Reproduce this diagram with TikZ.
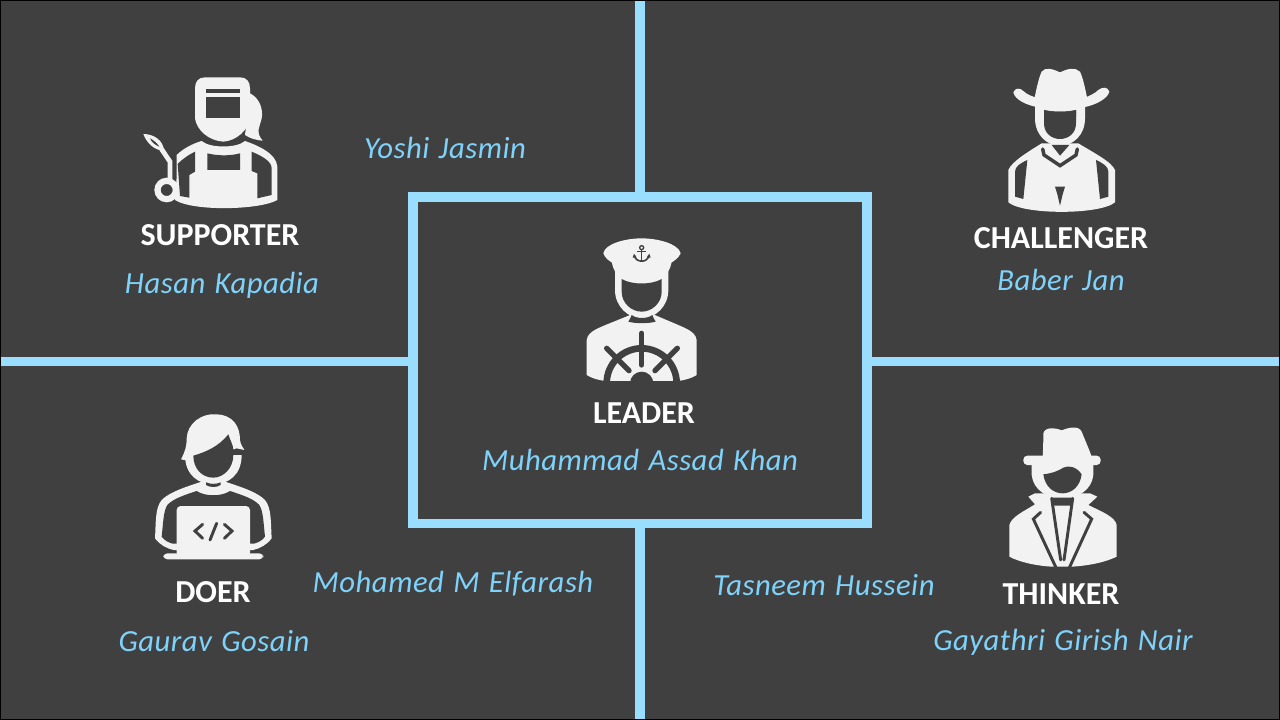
\documentclass[tikz,border=0pt]{standalone}
\usepackage{fontspec}
\setmainfont{Carlito}
\newfontfamily\namefont[LetterSpace=1.7,WordSpace=1.25]{Carlito}
\definecolor{bgc}{HTML}{404040}
\definecolor{linec}{HTML}{99DDFF}
\definecolor{namec}{HTML}{7FD3FA}
\definecolor{iconc}{HTML}{F2F2F2}
\tikzset{
 x=0.75pt,y=-0.75pt,
 role/.style={text=white,font=\fontsize{24}{27}\selectfont\bfseries,inner sep=0pt},
 person/.style={text=namec,font=\namefont\fontsize{23}{26}\selectfont\itshape,inner sep=0pt},
 wh/.style={fill=iconc,draw=none},
 dk/.style={fill=bgc,draw=none},
 dkl/.style={draw=bgc,line cap=round},
 whl/.style={draw=iconc,line cap=round},
}
\begin{document}
\begin{tikzpicture}
\useasboundingbox (0,0) rectangle (1280,720);
\fill[bgc] (0,0) rectangle (1280,720);
\coordinate (edgeT) at (640,0);
\coordinate (edgeB) at (640,720);
\coordinate (edgeL) at (0,361.7);
\coordinate (edgeR) at (1280,361.7);
\node[draw=linec,line width=7pt,fill=none,minimum width=340.5pt,minimum height=245pt,inner sep=0pt] (leaderbox) at (640,360.2) {};
\draw[draw=linec,line width=7.5pt] (leaderbox.north) -- (edgeT);
\draw[draw=linec,line width=7.5pt] (leaderbox.south) -- (edgeB);
\draw[draw=linec,line width=6.5pt] (leaderbox.west |- edgeL) -- (edgeL);
\draw[draw=linec,line width=6.5pt] (leaderbox.east |- edgeR) -- (edgeR);
% supporter
\begin{scope}[shift={(120,60)},scale=1/3]
\fill[wh] (390,100) .. controls (420,115) and (430,150) .. (425,175) .. controls (420,200) and (405,215) .. (428,242) .. controls (405,240) and (390,235) .. (375,225) -- cycle;
\fill[wh] (255,52) -- (360,52) .. controls (380,52) and (390,65) .. (390,85) -- (390,175) .. controls (385,210) and (350,242) .. (310,245) .. controls (265,242) and (230,210) .. (225,175) -- (225,85) .. controls (225,65) and (235,52) .. (255,52) -- cycle;
\fill[dk] (258,110) rectangle (360,173);
\fill[dk] (258,88) rectangle (360,98);
\fill[wh] (170,285) .. controls (190,265) and (220,250) .. (245,243) .. controls (270,265) and (350,265) .. (375,243) .. controls (410,255) and (470,280) .. (472,320) -- (472,420) .. controls (420,450) and (220,455) .. (165,420) -- (170,350) -- cycle;
\fill[dk] (173,312) .. controls (190,295) and (205,285) .. (225,275) -- (225,335) -- (208,345) -- (208,413) -- (180,408) -- cycle;
\fill[dk] (395,275) .. controls (430,290) and (455,305) .. (455,325) -- (455,405) -- (412,415) -- (412,340) -- (395,333) -- cycle;
\fill[dk] (262,280) .. controls (295,288) and (330,288) .. (360,280) -- (360,330) -- (262,330) -- cycle;
\fill[dk] (272,247) .. controls (295,258) and (325,258) .. (350,247) .. controls (335,250) and (285,250) .. (272,247) -- cycle;
\fill[wh,even odd rule] (140,390) circle[radius=37] (140,390) circle[radius=18];
\draw[whl,line width=3.6pt] (150,360) -- (150,305) -- (125,268);
\fill[wh] (70,222) .. controls (100,222) and (130,240) .. (132,272) .. controls (105,272) and (80,250) .. (70,222) -- cycle;
\fill[dk] (90,235) .. controls (100,240) and (112,250) .. (118,260) .. controls (105,255) and (95,247) .. (90,235) -- cycle;
\end{scope}
% challenger
\begin{scope}[shift={(970,55)},scale=1/3]
\fill[wh] (115,345) .. controls (125,320) and (175,290) .. (215,265) -- (325,265) .. controls (365,290) and (425,320) .. (435,345) -- (435,442) .. controls (390,480) and (160,480) .. (115,442) -- cycle;
\fill[dk] (172,315) .. controls (150,325) and (135,335) .. (135,350) -- (135,425) -- (160,432) -- cycle;
\fill[dk] (378,315) .. controls (400,325) and (415,335) .. (415,350) -- (415,425) -- (390,432) -- cycle;
\fill[wh] (195,150) -- (345,150) -- (345,190) .. controls (345,240) and (310,272) .. (270,272) .. controls (230,272) and (195,240) .. (195,190) -- cycle;
\fill[dk] (222,165) .. controls (250,172) and (290,172) .. (318,165) -- (318,205) .. controls (318,235) and (295,252) .. (270,252) .. controls (245,252) and (222,235) .. (222,205) -- cycle;
\fill[dk] (245,270) -- (298,270) -- (270,302) -- cycle;
\draw[dkl,line width=2.6pt] (218,282) -- (222,300) -- (270,332) -- (318,300) -- (322,282);
\fill[dk] (255,395) -- (285,395) -- (278,418) -- (270,452) -- (262,418) -- cycle;
\fill[wh] (130,112) .. controls (135,98) and (150,98) .. (160,108) .. controls (170,118) and (185,124) .. (200,128) -- (200,156) .. controls (170,150) and (135,135) .. (130,112) -- cycle;
\fill[wh] (418,110) .. controls (413,95) and (398,95) .. (385,105) .. controls (375,115) and (360,122) .. (345,128) -- (345,156) .. controls (375,150) and (413,132) .. (418,110) -- cycle;
\fill[wh] (190,150) .. controls (195,120) and (205,70) .. (215,50) .. controls (225,35) and (250,42) .. (270,52) .. controls (290,42) and (315,35) .. (330,50) .. controls (340,70) and (350,120) .. (355,150) .. controls (320,162) and (225,162) .. (190,150) -- cycle;
\fill[dk] (222,165) .. controls (250,172) and (290,172) .. (318,165) -- (318,185) -- (222,185) -- cycle;
\end{scope}
% leader
\begin{scope}[shift={(560,225)},scale=1/3]
\fill[wh] (80,345) .. controls (85,315) and (115,310) .. (215,268) -- (280,268) .. controls (375,310) and (405,315) .. (410,345) -- (410,450) .. controls (395,460) and (375,465) .. (355,468) -- (135,468) .. controls (115,465) and (95,460) .. (80,450) -- cycle;
\fill[wh] (165,140) -- (325,140) -- (325,195) .. controls (325,245) and (285,280) .. (245,280) .. controls (205,280) and (165,245) .. (165,195) -- cycle;
\fill[dk] (185,162) .. controls (215,180) and (275,180) .. (305,162) -- (305,200) .. controls (305,235) and (275,260) .. (245,260) .. controls (215,260) and (185,235) .. (185,200) -- cycle;
\fill[dk] (205,290) .. controls (210,282) and (213,276) .. (215,270) .. controls (230,282) and (262,282) .. (277,270) .. controls (279,276) and (282,282) .. (287,290) .. controls (265,296) and (225,296) .. (205,290) -- cycle;
\fill[wh] (155,110) -- (335,110) .. controls (330,135) and (322,150) .. (305,158) .. controls (270,175) and (220,175) .. (185,158) .. controls (168,150) and (160,135) .. (155,110) -- cycle;
\fill[wh] (130,85) .. controls (135,55) and (200,40) .. (245,40) .. controls (290,40) and (355,55) .. (362,85) .. controls (355,100) and (340,110) .. (330,115) .. controls (280,122) and (210,122) .. (160,115) .. controls (150,110) and (135,100) .. (130,85) -- cycle;
\draw[bgc,line width=1pt] (245,68) circle[radius=6];
\draw[bgc,line width=1.2pt] (245,74) -- (245,112) (232,80) -- (258,80);
\draw[bgc,line width=1.2pt] (224,92) .. controls (226,114) and (264,114) .. (266,92);
\fill[bgc] (222,86) -- (230,98) -- (218,98) -- cycle (268,86) -- (260,98) -- (272,98) -- cycle;
\begin{scope}
\clip (80,250) rectangle (410,470);
\draw[bgc,line width=5pt] (245,475) circle[radius=105];
\fill[bgc] (245,475) circle[radius=35];
\end{scope}
\draw[dkl,line width=4pt] (245,325) -- (245,420);
\draw[dkl,line width=4pt] (140,370) -- (207,437);
\draw[dkl,line width=4pt] (352,370) -- (285,437);
\end{scope}
% doer
\begin{scope}[shift={(130,405)},scale=1/3]
\fill[wh] (75,400) .. controls (78,350) and (75,310) .. (95,285) .. controls (120,260) and (170,245) .. (215,230) -- (285,230) .. controls (330,245) and (380,260) .. (405,285) .. controls (425,310) and (422,350) .. (425,400) .. controls (410,420) and (390,430) .. (370,435) -- (130,435) .. controls (110,430) and (90,420) .. (75,400) -- cycle;
\fill[dk] (95,395) .. controls (100,350) and (100,320) .. (112,300) .. controls (130,280) and (170,268) .. (200,258) .. controls (225,275) and (275,275) .. (300,258) .. controls (330,268) and (370,280) .. (388,300) .. controls (400,320) and (400,350) .. (405,395) .. controls (395,408) and (385,412) .. (372,416) -- (128,416) .. controls (115,412) and (105,408) .. (95,395) -- cycle;
\fill[wh,rounded corners=3pt] (140,303) rectangle (360,455);
\fill[wh,rounded corners=3pt] (100,445) rectangle (400,463);
\fill[wh] (165,150) -- (335,150) .. controls (335,210) and (295,238) .. (250,238) .. controls (205,238) and (165,210) .. (165,150) -- cycle;
\fill[wh] (215,215) -- (285,215) -- (285,250) .. controls (270,265) and (230,265) .. (215,250) -- cycle;
\fill[dk] (228,232) .. controls (240,238) and (260,238) .. (272,232) -- (272,240) .. controls (260,248) and (240,248) .. (228,240) -- cycle;
\fill[wh] (153,163) .. controls (165,140) and (170,125) .. (170,100) .. controls (172,55) and (215,25) .. (255,28) .. controls (310,28) and (330,65) .. (330,105) .. controls (332,120) and (338,125) .. (343,135) -- (320,130) -- (190,170) -- cycle;
\fill[dk] (190,152) .. controls (230,140) and (265,125) .. (295,88) .. controls (300,105) and (310,120) .. (310,135) -- (310,150) .. controls (310,190) and (280,218) .. (250,218) .. controls (215,218) and (190,190) .. (190,152) -- cycle;
\draw[dkl,line width=2.2pt] (218,358) -- (195,378) -- (218,400);
\draw[dkl,line width=2.2pt] (283,358) -- (306,378) -- (283,400);
\draw[dkl,line width=2.2pt] (260,355) -- (240,405);
\end{scope}
% thinker
\begin{scope}[shift={(980,415)},scale=1/3]
\fill[wh] (88,330) .. controls (95,305) and (130,290) .. (165,268) -- (145,245) -- (165,235) -- (330,235) -- (352,245) -- (325,270) .. controls (365,290) and (405,305) .. (410,330) -- (410,425) .. controls (380,440) and (330,452) .. (275,455) -- (215,455) .. controls (165,452) and (115,440) .. (88,425) -- cycle;
\fill[wh] (155,140) -- (340,140) -- (340,180) .. controls (335,225) and (295,250) .. (248,250) .. controls (200,250) and (160,225) .. (155,180) -- cycle;
\fill[dk] (190,178) .. controls (215,175) and (230,170) .. (250,158) .. controls (265,150) and (290,155) .. (305,178) .. controls (300,215) and (275,235) .. (248,235) .. controls (220,235) and (195,215) .. (190,178) -- cycle;
\draw[dkl,line width=2.2pt] (182,292) -- (160,312) -- (228,458);
\draw[dkl,line width=2.2pt] (312,292) -- (335,312) -- (268,458);
\draw[dkl,line width=2.2pt] (215,250) -- (242,435) (278,250) -- (252,435);
\fill[dk] (215,248) -- (278,248) -- (273,272) -- (222,272) -- cycle;
\fill[wh] (188,125) .. controls (190,90) and (190,65) .. (190,55) .. controls (195,35) and (225,38) .. (245,46) .. controls (265,38) and (295,30) .. (305,50) .. controls (315,75) and (328,105) .. (335,125) -- cycle;
\fill[wh,rounded corners=3pt] (130,122) rectangle (362,150);
\end{scope}
% labels
\node[role] (supporter) at (220,235) {SUPPORTER};
\node[person] (hasan) at (222,285) {Hasan Kapadia};
\node[person] (yoshi) at (445,148) {Yoshi Jasmin};
\node[role] (challenger) at (1061,238) {CHALLENGER};
\node[person] (baber) at (1061,280) {Baber Jan};
\node[role] (leader) at (644,413) {LEADER};
\node[person] (assad) at (640,460) {Muhammad Assad Khan};
\node[role] (doer) at (213,592) {DOER};
\node[person] (gaurav) at (214,641) {Gaurav Gosain};
\node[person] (elfarash) at (453,584) {Mohamed M Elfarash};
\node[person] (tasneem) at (824,585) {Tasneem Hussein};
\node[role] (thinker) at (1061,594) {THINKER};
\node[person] (gayathri) at (1063,642) {Gayathri Girish Nair};
\draw[black,line width=2.2pt] (0,0) rectangle (1280,720);
\end{tikzpicture}
\end{document}
